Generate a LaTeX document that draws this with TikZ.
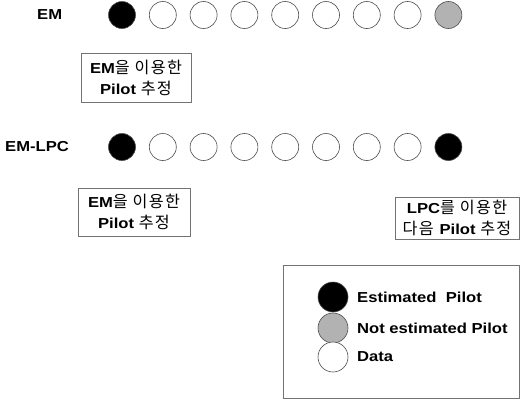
\documentclass[tikz,border=0pt]{standalone}
\usepackage{fontspec}
\setmainfont{Liberation Sans}[FakeStretch=1.15]
\newfontfamily\krfont{Noto Sans CJK KR}[LetterSpace=8, Scale=1.12]
\usetikzlibrary{positioning}

\begin{document}
\begin{tikzpicture}[x=1bp, y=-1bp,
	pilot/.style={circle, draw=black!70, line width=0.6bp, minimum size=27bp, inner sep=0pt},
	estimated/.style={pilot, fill=black},
	notestimated/.style={pilot, fill=black!30},
	datum/.style={pilot, fill=white},
	rowlabel/.style={font=\fontsize{14.5}{16}\selectfont\bfseries, anchor=west, inner sep=0pt},
	notebox/.style={draw=black!55, line width=0.7bp, align=center, inner sep=0pt,
		font=\fontsize{14.5}{21}\selectfont},
	legendtext/.style={font=\fontsize{14.5}{16}\selectfont\bfseries, anchor=west, inner sep=0pt}]

	\useasboundingbox (0,0) rectangle (520,401);

		% Row labels.

	\node [rowlabel] (EMlabel) at (37, 15) {EM};
	\node [rowlabel] (LPClabel) at (5, 147) {EM-LPC};

	% EM row

	\node [estimated] (EM0) at (122, 15) {};
	\foreach \i in {1,...,7}
		\node [datum] (EM\i) at (122 + 40.8*\i, 15) {};
	\node [notestimated] (EM8) at (448.4, 15) {};

	% EM-LPC row

	\node [estimated] (LPC0) at (122, 147) {};
	\foreach \i in {1,...,7}
		\node [datum] (LPC\i) at (122 + 40.8*\i, 147) {};
	\node [estimated] (LPC8) at (448.4, 147) {};

% Note boxes.

	\node [notebox, minimum width=110bp, minimum height=49bp] (noteEM) at (136, 78)
		{\textbf{EM}{\krfont 을 이용한}\\\textbf{Pilot} {\krfont 추정}};
	\node [notebox, minimum width=112bp, minimum height=48bp] (noteEMLPC) at (134, 212)
		{\textbf{EM}{\krfont 을 이용한}\\\textbf{Pilot} {\krfont 추정}};
	\node [notebox, minimum width=124bp, minimum height=42bp] (noteLPC) at (457, 218)
		{\textbf{LPC}{\krfont 를 이용한}\\{\krfont 다음} \textbf{Pilot} {\krfont 추정}};

% Legend.

	\node [draw=black!55, line width=0.7bp, minimum width=236bp, minimum height=133bp,
		inner sep=0pt] (legend) at (401, 331.5) {};

	\node [pilot, fill=black, minimum size=30bp] (keyEst) at (333, 297) {};
	\node [pilot, fill=black!30, minimum size=30bp] (keyNot) at (333, 328) {};
	\node [pilot, fill=white, minimum size=30bp] (keyData) at (333, 357) {};

	\node [legendtext] (txtEst) at (357, 297) {Estimated\ \ Pilot};
	\node [legendtext] (txtNot) at (357, 328) {Not estimated Pilot};
	\node [legendtext] (txtData) at (357, 357) {Data};

\end{tikzpicture}
\end{document}
